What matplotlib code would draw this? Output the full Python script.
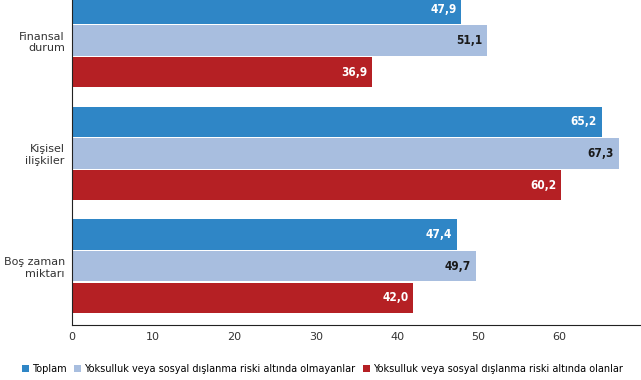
import matplotlib

matplotlib.use("Agg")
import matplotlib.pyplot as plt
import numpy as np

# categories, top to bottom
categories = ["Finansal\ndurum", "Kişisel\nilişkiler", "Boş zaman\nmiktarı"]

series_names = [
    "Toplam",
    "Yoksulluk veya sosyal dışlanma riski altında olmayanlar",
    "Yoksulluk veya sosyal dışlanma riski altında olanlar",
]
toplam = [47.9, 65.2, 47.4]
risk_yok = [51.1, 67.3, 49.7]
risk_var = [36.9, 60.2, 42.0]

xticks = [0, 10, 20, 30, 40, 50, 60]

colors = ["#2f86c6", "#a8bedf", "#b52024"]
label_colors = ["white", "#1a1a1a", "white"]


def fmt(v):
    return f"{v:.1f}".replace(".", ",")


fig = plt.figure(figsize=(6.41, 3.80), dpi=100)
ax = fig.add_axes([0.112, 0.145, 0.888, 0.855])

y = np.arange(len(categories))
h = 0.28
offsets = [-h, 0, h]
for vals, off, col, lc, name in zip([toplam, risk_yok, risk_var], offsets,
                                    colors, label_colors, series_names):
    bars = ax.barh(y + off, vals, height=h - 0.01, color=col, label=name)
    for b, v in zip(bars, vals):
        ax.text(b.get_width() - 0.6, b.get_y() + b.get_height() / 2, fmt(v),
                ha="right", va="center", fontsize=8.5, fontweight="bold",
                color=lc, fontstretch="condensed")

ax.set_ylim(2.52, -0.36)
ax.set_xlim(0, 70)
ax.set_yticks(y)
ax.set_yticklabels(categories, fontsize=8, color="#333333", ha="right")
ax.set_xticks(xticks)
ax.set_xticklabels([str(t) for t in xticks], fontsize=8, color="#333333")
ax.tick_params(axis="both", length=0, pad=5)
ax.spines["top"].set_visible(False)
ax.spines["right"].set_visible(False)
ax.spines["left"].set_color("#222222")
ax.spines["bottom"].set_color("#222222")

ax.legend(loc="center", bbox_to_anchor=(0.44, -0.135), ncol=3, frameon=False,
          fontsize=7, handlelength=0.7, handleheight=0.7, handletextpad=0.3,
          columnspacing=0.8)

fig.savefig("out.png", dpi=100)
